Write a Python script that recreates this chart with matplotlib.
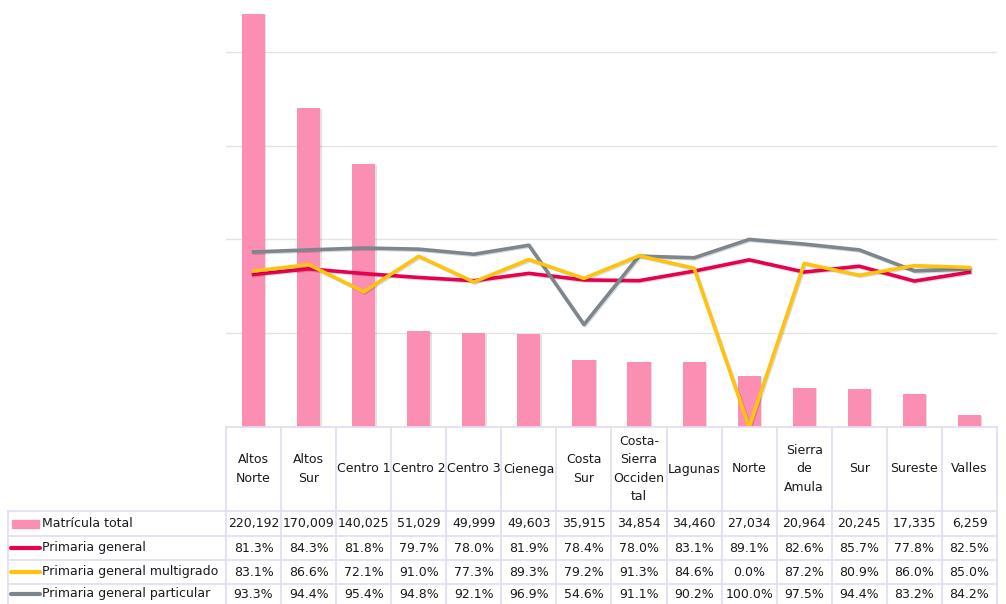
import numpy as np
import matplotlib.pyplot as plt
import matplotlib.patheffects as pe
from matplotlib.transforms import blended_transform_factory
from matplotlib.lines import Line2D
from matplotlib.patches import Rectangle

plt.rcParams['font.family'] = ['DejaVu Sans']

regiones = ['Altos\nNorte', 'Altos\nSur', 'Centro 1', 'Centro 2', 'Centro 3', 'Cienega',
            'Costa\nSur', 'Costa-\nSierra\nOcciden\ntal', 'Lagunas', 'Norte',
            'Sierra\nde\nAmula', 'Sur', 'Sureste', 'Valles']
matricula = [220192, 170009, 140025, 51029, 49999, 49603, 35915, 34854, 34460,
             27034, 20964, 20245, 17335, 6259]
prim_general = [81.3, 84.3, 81.8, 79.7, 78.0, 81.9, 78.4, 78.0, 83.1, 89.1, 82.6, 85.7, 77.8, 82.5]
prim_multigrado = [83.1, 86.6, 72.1, 91.0, 77.3, 89.3, 79.2, 91.3, 84.6, 0.0, 87.2, 80.9, 86.0, 85.0]
prim_particular = [93.3, 94.4, 95.4, 94.8, 92.1, 96.9, 54.6, 91.1, 90.2, 100.0, 97.5, 94.4, 83.2, 84.2]

series = ['Matrícula total', 'Primaria general', 'Primaria general multigrado',
          'Primaria general particular']
c_bar = '#FB8FB3'
c_gen = '#E6004F'
c_mul = '#FFC20E'
c_par = '#7D858D'

W, H = 1006, 604
fig = plt.figure(figsize=(W / 100, H / 100), dpi=100)

def fy(py):
    return 1 - py / H

# plot area: baseline at y=427px, 250000 lands above the figure top
x0, x1 = 226, 997
base = 427
top = base - 469
ax = fig.add_axes([x0 / W, fy(base), (x1 - x0) / W, (base - top) / H])
x = np.arange(len(regiones))
ax.bar(x, matricula, width=0.42, color=c_bar, zorder=2,
       path_effects=[pe.SimplePatchShadow(offset=(1, -0.5), alpha=0.15), pe.Normal()])
ax.set_xlim(-0.5, len(regiones) - 0.5)
ax.set_ylim(0, 250000)
ax.set_yticks(np.arange(0, 250001, 50000))
ax.grid(axis='y', color='#E3E3E3', lw=1, zorder=0)
for s in ax.spines.values():
    s.set_visible(False)

ax2 = ax.twinx()
ax2.set_ylim(0, 250)
ax2.set_axis_off()
ax.tick_params(left=False, right=False, bottom=False, labelleft=False, labelbottom=False)
shadow = [pe.SimpleLineShadow(offset=(0.8, -0.8), alpha=0.15), pe.Normal()]
ax2.plot(x, prim_general, color=c_gen, lw=2.6, path_effects=shadow, zorder=3)
ax2.plot(x, prim_multigrado, color=c_mul, lw=2.6, path_effects=shadow, zorder=4)
ax2.plot(x, prim_particular, color=c_par, lw=2.6, path_effects=shadow, zorder=3)

# data table below the plot
tr = blended_transform_factory(ax.transData, fig.transFigure)
grid_c = '#E4DAF4'
rows_y = [427, 511, 536, 560, 584, 604]
left = 8
for i in range(len(regiones) + 1):
    fig.add_artist(Line2D([i - 0.5, i - 0.5], [fy(427), fy(604)], transform=tr,
                          color=grid_c, lw=1.2))
fig.add_artist(Line2D([left / W, left / W], [fy(511), fy(604)], transform=fig.transFigure,
                      color=grid_c, lw=1.2))
for j, py in enumerate(rows_y[:-1]):
    xs = x0 if j == 0 else left
    fig.add_artist(Line2D([xs / W, x1 / W], [fy(py), fy(py)], transform=fig.transFigure,
                          color=grid_c, lw=1.2))

fs = 9
for i, lab in enumerate(regiones):
    fig.text(i, fy((427 + 511) / 2), lab, transform=tr, ha='center', va='center',
             fontsize=fs, color='#1A1A1A', linespacing=1.55)

valores = [[f'{v:,}' for v in matricula],
           [f'{v:.1f}%' for v in prim_general],
           [f'{v:.1f}%' for v in prim_multigrado],
           [f'{v:.1f}%' for v in prim_particular]]
for r in range(4):
    yc = fy((rows_y[r + 1] + rows_y[r + 2]) / 2)
    for i, t in enumerate(valores[r]):
        fig.text(i, yc, t, transform=tr, ha='center', va='center', fontsize=fs,
                 color='#1A1A1A')
    fig.text(42 / W, yc, series[r], ha='left', va='center', fontsize=fs, color='#1A1A1A')

# legend keys in the first column
yc = fy((511 + 536) / 2)
fig.add_artist(Rectangle((12 / W, yc - 4 / H), 27 / W, 8 / H, transform=fig.transFigure,
                         color=c_bar))
for r, c in zip(range(1, 4), [c_gen, c_mul, c_par]):
    yc = fy((rows_y[r + 1] + rows_y[r + 2]) / 2)
    fig.add_artist(Line2D([11 / W, 40 / W], [yc, yc], transform=fig.transFigure,
                          color=c, lw=3, solid_capstyle='round'))

fig.savefig('out.png', dpi=100)
